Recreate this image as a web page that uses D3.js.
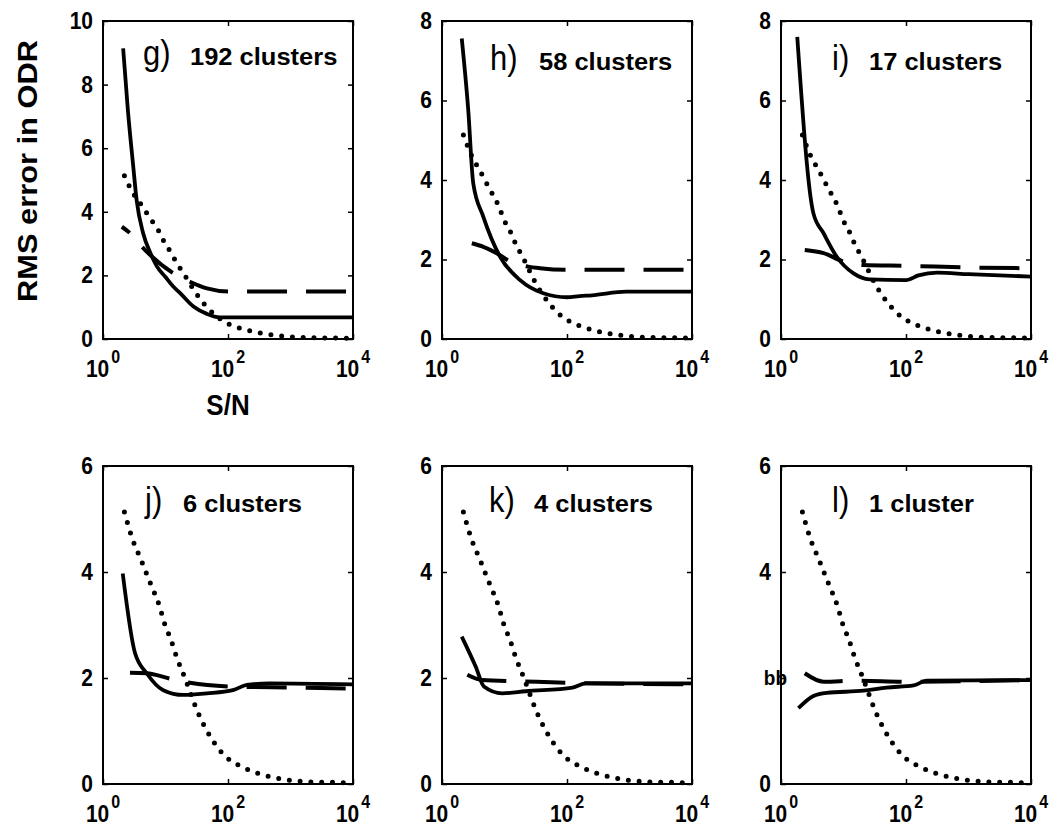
<!DOCTYPE html>
<html><head><meta charset="utf-8">
<script src="https://cdn.jsdelivr.net/npm/d3@7"></script>
<style>
body{margin:0;background:#fff;}
svg{display:block;font-family:"Liberation Sans",Arial,Helvetica,sans-serif;}
</style>
</head><body>
<svg id="chart" width="1050" height="835"></svg>
<script>
// ---------- DATA ----------
const panelLetters  = ["g)", "h)", "i)", "j)", "k)", "l)"];
const clusterLabels = ["192 clusters", "58 clusters", "17 clusters", "6 clusters", "4 clusters", "1 cluster"];
const yMaxima = [10, 8, 8, 6, 6, 6];
const xTickValues = [1, 100, 10000];
const xTickExponents = ["0", "2", "4"];
const yTickLabelsL = ["0", "bb", "4", "6"]; // panel l shows "bb" at the 2 tick
const yAxisTitle = "RMS error in ODR";
const xAxisTitle = "S/N";

// dotted curve (same in every panel)
const noiseSN  = [2.2, 3, 4, 5, 6, 8, 10, 12, 15, 20, 25, 30, 40, 50, 70, 100, 150, 200, 300, 500, 1000, 2000, 5000, 10000];
const noiseRMS = [5.13, 4.6, 4.25, 3.96, 3.73, 3.36, 2.97, 2.75, 2.40, 2.03, 1.72, 1.47, 1.14, 0.93, 0.67, 0.48, 0.35, 0.28, 0.2, 0.13, 0.07, 0.04, 0.03, 0.02];

// g) 192 clusters
const solidSN_g  = [2.1, 2.5, 3.05, 3.45, 4.4, 5.75, 7.2, 10, 13.3, 17, 28, 46, 74, 10000];
const solidRMS_g = [9.14, 7.2, 5.42, 4.37, 3.32, 2.7, 2.3, 1.95, 1.65, 1.45, 1.02, 0.79, 0.68, 0.68];
const dashSN_g   = [2, 2.7, 4.2, 13.3, 24.5, 46, 107, 10000];
const dashRMS_g  = [3.53, 3.33, 2.9, 2.07, 1.8, 1.59, 1.49, 1.49];
// h) 58 clusters
const solidSN_h  = [2.07, 2.63, 3.16, 4.57, 8.5, 17.8, 41.7, 100, 158, 250, 890, 10000];
const solidRMS_h = [7.56, 5.76, 3.92, 3.08, 2.07, 1.48, 1.15, 1.05, 1.08, 1.1, 1.19, 1.19];
const dashSN_h   = [3, 4.6, 7.5, 12.3, 24, 37, 100, 10000];
const dashRMS_h  = [2.41, 2.32, 2.16, 1.95, 1.82, 1.78, 1.74, 1.74];
// i) 17 clusters
const solidSN_i  = [1.82, 3.3, 4.8, 7.8, 14.5, 26, 100, 158, 316, 1000, 10000];
const solidRMS_i = [7.6, 3.16, 2.66, 2.07, 1.65, 1.5, 1.48, 1.6, 1.67, 1.63, 1.57];
const dashSN_i   = [2.4, 4.8, 10, 21, 100, 1000, 10000];
const dashRMS_i  = [2.24, 2.16, 1.95, 1.86, 1.84, 1.8, 1.78];
// j) 6 clusters
const solidSN_j  = [2.07, 3.25, 5, 9.2, 19.3, 46, 120, 200, 457, 10000];
const solidRMS_j = [3.97, 2.47, 2.09, 1.77, 1.68, 1.71, 1.77, 1.87, 1.9, 1.88];
const dashSN_j   = [2.7, 5, 11.7, 24.5, 107, 1000, 10000];
const dashRMS_j  = [2.1, 2.09, 1.99, 1.91, 1.84, 1.82, 1.8];
// k) 4 clusters
const solidSN_k  = [2.07, 3.47, 4.68, 9.2, 21.9, 123, 200, 10000];
const solidRMS_k = [2.78, 2.21, 1.84, 1.71, 1.75, 1.82, 1.9, 1.9];
const dashSN_k   = [2.54, 4.42, 17, 107, 10000];
const dashRMS_k  = [2.06, 1.96, 1.94, 1.91, 1.88];
// l) 1 cluster
const solidSN_l  = [1.9, 3.3, 5.4, 21, 49, 132, 214, 10000];
const solidRMS_l = [1.43, 1.66, 1.72, 1.76, 1.82, 1.86, 1.95, 1.96];
const dashSN_l   = [2.4, 4.8, 16.2, 102, 10000];
const dashRMS_l  = [2.09, 1.93, 1.95, 1.93, 1.96];

const solidSN  = [solidSN_g, solidSN_h, solidSN_i, solidSN_j, solidSN_k, solidSN_l];
const solidRMS = [solidRMS_g, solidRMS_h, solidRMS_i, solidRMS_j, solidRMS_k, solidRMS_l];
const dashSN   = [dashSN_g, dashSN_h, dashSN_i, dashSN_j, dashSN_k, dashSN_l];
const dashRMS  = [dashRMS_g, dashRMS_h, dashRMS_i, dashRMS_j, dashRMS_k, dashRMS_l];

// ---------- LAYOUT ----------
const W = 250, H = 318;
const lefts = [103, 442, 781];
const tops = [21, 466];
const letterDx = [40, 48, 51, 42, 47, 51];
const labelDx  = [87, 97, 88, 80, 92, 88];
const titleBase = [44, 49, 49, 46, 46, 46];
const dashOffsets = [30, 0, 0, 0, 0, 0];

const svg = d3.select("#chart");

panelLetters.forEach((letter, i) => {
  const x0 = lefts[i % 3], y0 = tops[Math.floor(i / 3)];
  const g = svg.append("g").attr("transform", `translate(${x0},${y0})`);
  const x = d3.scaleLog().domain([1, 10000]).range([0, W]);
  const yMax = yMaxima[i];
  const y = d3.scaleLinear().domain([0, yMax]).range([H, 0]);
  const yTicks = d3.range(0, yMax + 0.001, 2);
  const line = d3.line().x(d => x(d[0])).y(d => y(d[1])).curve(d3.curveMonotoneX);

  // curves
  g.append("path").datum(d3.zip(noiseSN, noiseRMS)).attr("d", line)
    .attr("fill", "none").attr("stroke", "#000").attr("stroke-width", 5)
    .attr("stroke-linecap", "round").attr("stroke-dasharray", "0 10.8");
  g.append("path").datum(d3.zip(dashSN[i], dashRMS[i])).attr("d", line)
    .attr("fill", "none").attr("stroke", "#000").attr("stroke-width", 4)
    .attr("stroke-dasharray", "40 19").attr("stroke-dashoffset", dashOffsets[i]);
  g.append("path").datum(d3.zip(solidSN[i], solidRMS[i])).attr("d", line)
    .attr("fill", "none").attr("stroke", "#000").attr("stroke-width", 3.8)
    .attr("stroke-linejoin", "round");

  // axes with inward ticks
  const yl = g.append("g").call(d3.axisLeft(y).tickValues(yTicks).tickSize(-5).tickPadding(10)
      .tickFormat((d, k) => i === 5 ? yTickLabelsL[k] : d3.format("d")(d)));
  const yr = g.append("g").attr("transform", `translate(${W},0)`)
      .call(d3.axisRight(y).tickValues(yTicks).tickSize(-5).tickFormat(""));
  const xb = g.append("g").attr("transform", `translate(0,${H})`)
      .call(d3.axisBottom(x).tickValues(xTickValues).tickSize(-5).tickFormat(""));
  const xt = g.append("g")
      .call(d3.axisTop(x).tickValues(xTickValues).tickSize(-5).tickFormat(""));
  [yl, yr, xb, xt].forEach(a => {
    a.select(".domain").remove();
    a.selectAll(".tick line").attr("stroke", "#000").attr("stroke-width", 1.5);
  });
  yl.selectAll(".tick text")
    .attr("font-size", 21).attr("font-weight", "bold").attr("fill", "#000")
    .attr("font-family", "'Liberation Sans', Arial, sans-serif")
    .attr("transform", "scale(1,1.1)")
    .each(function(d, k) {
      if (i === 5 && yTickLabelsL[k] === "bb") {
        d3.select(this).attr("font-size", 19).attr("x", 6);
      }
    });

  // frame
  g.append("rect").attr("width", W).attr("height", H)
    .attr("fill", "none").attr("stroke", "#000").attr("stroke-width", 2);

  // x tick labels 10^n
  xTickValues.forEach((t, k) => {
    const tx = g.append("text")
      .attr("transform", `translate(${x(t)},${H + 38}) scale(1,1.1)`)
      .attr("text-anchor", "middle").attr("font-size", 21).attr("font-weight", "bold").attr("fill", "#000");
    tx.append("tspan").text("10");
    tx.append("tspan").attr("dy", -13).attr("dx", 2).attr("font-size", 16).text(xTickExponents[k]);
  });

  // panel title
  g.append("text")
    .attr("transform", `translate(${letterDx[i]},${titleBase[i]}) scale(1,1.12)`)
    .attr("font-size", 31).attr("fill", "#000").text(letter);
  g.append("text")
    .attr("transform", `translate(${labelDx[i]},${titleBase[i]}) scale(1,0.95)`)
    .attr("font-size", 25.5).attr("font-weight", "bold").attr("fill", "#000").text(clusterLabels[i]);
});

// axis titles
svg.append("text")
  .attr("transform", "translate(37,171) rotate(-90)")
  .attr("text-anchor", "middle").attr("font-size", 27).attr("font-weight", "bold")
  .attr("textLength", 262).attr("lengthAdjust", "spacingAndGlyphs")
  .text(yAxisTitle);
svg.append("text")
  .attr("transform", "translate(228,415) scale(1,1.15)")
  .attr("text-anchor", "middle").attr("font-size", 26).attr("font-weight", "bold")
  .text(xAxisTitle);
</script>
</body></html>
